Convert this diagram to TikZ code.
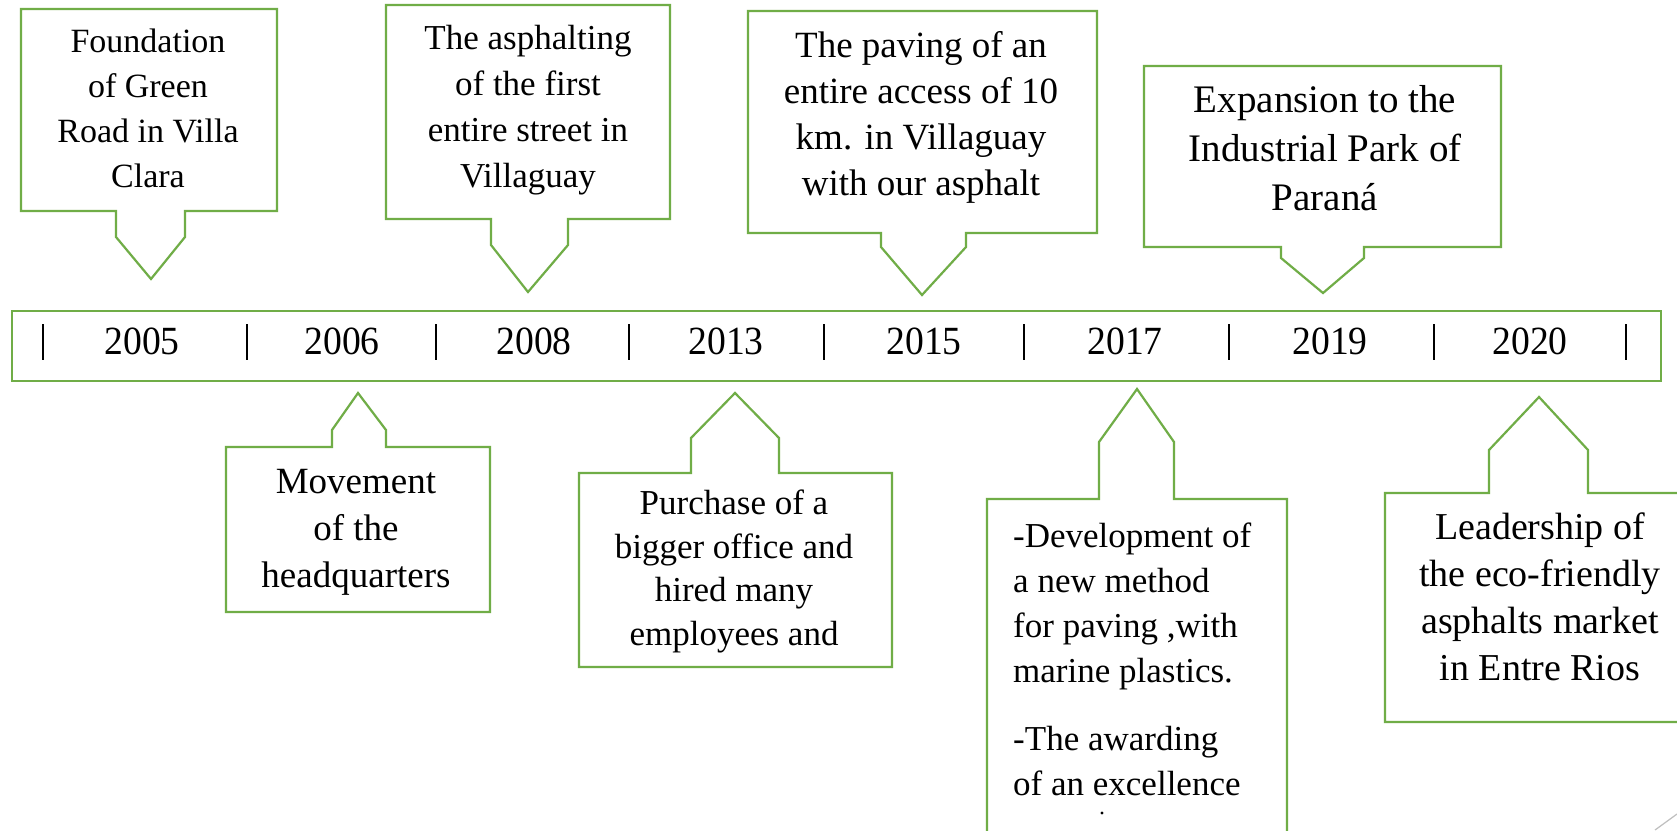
\documentclass[tikz,border=0pt]{standalone}
\usepackage{fontspec}
\setmainfont{Liberation Serif}
\newfontfamily\boxfont{Liberation Serif}
\newfontfamily\yearfont{Liberation Serif}[FakeStretch=0.94]
\definecolor{callgreen}{RGB}{112,173,71}
\begin{document}
\begin{tikzpicture}[x=1pt,y=-1pt,
  callout/.style={draw=callgreen, line width=2.2pt, line join=miter, fill=white},
  boxtext/.style={inner sep=0pt, align=center, anchor=base},
  yearlabel/.style={inner sep=0pt, anchor=base, font=\yearfont\fontsize{40}{48}\selectfont},
  tickmark/.style={line width=2pt, black}]
\useasboundingbox (0,0) rectangle (1677,830);
\clip (0,0) rectangle (1677,830);
\fill[white] (0,0) rectangle (1677,830);

% timeline bar
\draw[draw=callgreen, line width=2.2pt] (12,311) rectangle (1661,381);
\node[inner sep=0pt] (bar) at (836,346) {};
\foreach \x in {43,247,436,629,824,1024,1229,1434,1626}
  \draw[tickmark] (\x,324) -- (\x,360);
\node[yearlabel] (y2005) at (142,354) {2005};
\node[yearlabel] (y2006) at (342,354) {2006};
\node[yearlabel] (y2008) at (534,354) {2008};
\node[yearlabel] (y2013) at (726,354) {2013};
\node[yearlabel] (y2015) at (924,354) {2015};
\node[yearlabel] (y2017) at (1125,354) {2017};
\node[yearlabel] (y2019) at (1330,354) {2019};
\node[yearlabel] (y2020) at (1530,354) {2020};

% top callouts
\draw[callout] (21,9) -- (277,9) -- (277,211) -- (185,211) -- (185,237) -- (151,279) -- (116,237) -- (116,211) -- (21,211) -- cycle;
\node[boxtext, font=\boxfont\fontsize{34}{44.7}\selectfont] (t2005) at (148,187) {Foundation\\of Green\\Road in Villa\\Clara};

\draw[callout] (386,5) -- (670,5) -- (670,219) -- (568,219) -- (568,245) -- (528,292) -- (491,245) -- (491,219) -- (386,219) -- cycle;
\node[boxtext, font=\boxfont\fontsize{35}{45.7}\selectfont] (t2008) at (528,187) {The asphalting\\of the first\\entire street in\\Villaguay};

\draw[callout] (748,11) -- (1097,11) -- (1097,233) -- (966,233) -- (966,247) -- (922,295) -- (881,247) -- (881,233) -- (748,233) -- cycle;
\node[boxtext, font=\boxfont\fontsize{37}{46}\selectfont] (t2015) at (921,195) {The paving of an\\entire access of 10\\km. in Villaguay\\with our asphalt};

\draw[callout] (1144,66) -- (1501,66) -- (1501,247) -- (1364,247) -- (1364,258) -- (1323,293) -- (1281,258) -- (1281,247) -- (1144,247) -- cycle;
\node[boxtext, font=\boxfont\fontsize{39}{49}\selectfont] (t2019) at (1325,210) {Expansion to the\\Industrial Park of\\Paraná};

% bottom callouts
\draw[callout] (226,447) -- (332,447) -- (332,430) -- (358,393) -- (386,430) -- (386,447) -- (490,447) -- (490,612) -- (226,612) -- cycle;
\node[boxtext, font=\boxfont\fontsize{37}{47}\selectfont] (t2006) at (356,587) {Movement\\of the\\headquarters};

\draw[callout] (579,473) -- (691,473) -- (691,438) -- (735,393) -- (779,438) -- (779,473) -- (892,473) -- (892,667) -- (579,667) -- cycle;
\node[boxtext, font=\boxfont\fontsize{35}{43.5}\selectfont] (t2013) at (734,645) {Purchase of a\\bigger office and\\hired many\\employees and};

\draw[callout] (987,499) -- (1099,499) -- (1099,442) -- (1137,389) -- (1174,442) -- (1174,499) -- (1287,499) -- (1287,860) -- (987,860) -- cycle;
\node[inner sep=0pt, align=left, anchor=base west, font=\boxfont\fontsize{35}{45}\selectfont] (t2017) at (1013,795) {-Development of\\a new method\\for paving ,with\\marine plastics.\\[23pt]-The awarding\\of an excellence};
\fill[black] (1102,813) circle (1.6);

\draw[callout] (1385,493) -- (1489,493) -- (1489,450) -- (1539,397) -- (1588,450) -- (1588,493) -- (1700,493) -- (1700,722) -- (1385,722) -- cycle;
\node[boxtext, font=\boxfont\fontsize{38}{47}\selectfont] (t2020) at (1540,680) {Leadership of\\the eco-friendly\\asphalts market\\in Entre Rios};

% corner artefact
\draw[gray!50, line width=1.2pt] (1655,830) -- (1677,814);
\end{tikzpicture}
\end{document}
